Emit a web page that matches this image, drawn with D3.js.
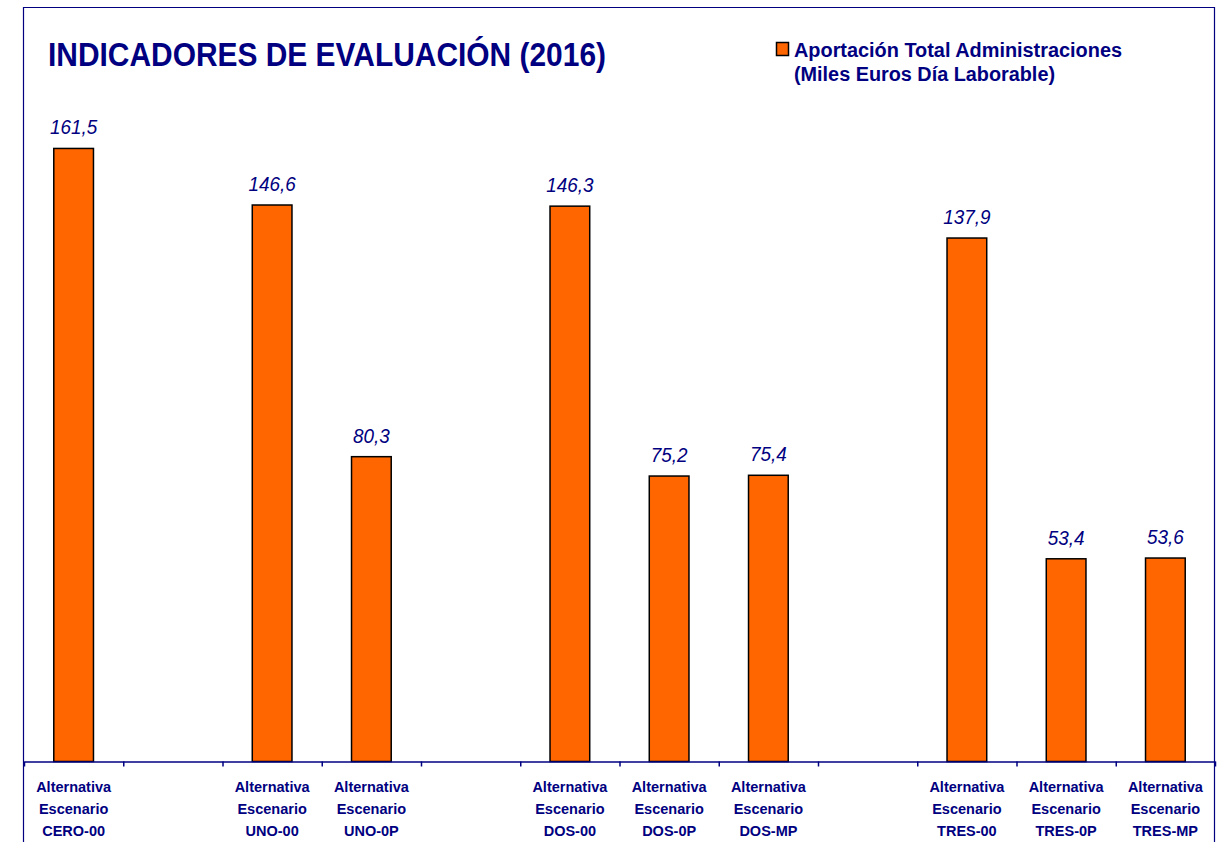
<!DOCTYPE html>
<html>
<head>
<meta charset="utf-8">
<script src="https://cdn.jsdelivr.net/npm/d3@7"></script>
<style>
  body { margin: 0; background: #fff; }
  svg { display: block; font-family: "Liberation Sans", Arial, sans-serif; }
</style>
</head>
<body>
<svg id="chart"></svg>
<script>
const width = 1223;
const height = 842;

// data: empty strings are the blank slots between groups
const scenarios = ["CERO-00", "", "UNO-00", "UNO-0P", "", "DOS-00", "DOS-0P", "DOS-MP", "", "TRES-00", "TRES-0P", "TRES-MP"];
const values = [161.5, null, 146.6, 80.3, null, 146.3, 75.2, 75.4, null, 137.9, 53.4, 53.6];
const labelPrefix = ["Alternativa", "Escenario"];
const title = "INDICADORES DE EVALUACIÓN (2016)";
const legendLines = ["Aportación Total Administraciones", "(Miles Euros Día Laborable)"];

const navy = "#000080";
const orange = "#FF6600";

const svg = d3.select("#chart")
    .attr("width", width)
    .attr("height", height)
    .attr("viewBox", `0 0 ${width} ${height}`);

const left = 24, right = 1215, axisY = 761.5;

const x = d3.scaleBand()
    .domain(d3.range(scenarios.length))
    .range([left, right])
    .paddingInner(0.6)
    .paddingOuter(0.3);

const y = d3.scaleLinear()
    .domain([0, 180])
    .range([axisY, axisY - 180 * 3.796]);

// slot boundaries for the tick marks
const slot = d3.scaleLinear()
    .domain([0, scenarios.length])
    .range([left, right]);

// outer frame (open at the bottom)
svg.append("path")
    .attr("d", `M${left - 0.5},${height} V7.5 H1214.5 V${height}`)
    .attr("fill", "none")
    .attr("stroke", navy)
    .attr("stroke-width", 1.2);

// title
svg.append("text")
    .attr("x", 48)
    .attr("y", 66)
    .attr("font-size", 33)
    .attr("font-weight", "bold")
    .attr("fill", navy)
    .attr("textLength", 558)
    .attr("lengthAdjust", "spacingAndGlyphs")
    .text(title);

// legend
svg.append("rect")
    .attr("x", 776.5).attr("y", 42.5)
    .attr("width", 12).attr("height", 13)
    .attr("fill", orange)
    .attr("stroke", "#000")
    .attr("stroke-width", 1.5);

svg.append("text")
    .attr("x", 794).attr("y", 57)
    .attr("font-size", 20).attr("font-weight", "bold").attr("fill", navy)
    .attr("textLength", 328).attr("lengthAdjust", "spacingAndGlyphs")
    .text(legendLines[0]);

svg.append("text")
    .attr("x", 794).attr("y", 81)
    .attr("font-size", 20).attr("font-weight", "bold").attr("fill", navy)
    .attr("textLength", 261).attr("lengthAdjust", "spacingAndGlyphs")
    .text(legendLines[1]);

const data = scenarios.map((s, i) => ({ i: i, name: s, value: values[i] }))
    .filter(d => d.value !== null);

// bars
svg.append("g")
    .selectAll("rect")
    .data(data)
    .enter().append("rect")
    .attr("x", d => x(d.i))
    .attr("y", d => y(d.value))
    .attr("width", x.bandwidth())
    .attr("height", d => y(0) - y(d.value))
    .attr("fill", orange)
    .attr("stroke", "#000")
    .attr("stroke-width", 1.5);

// value labels
svg.append("g")
    .selectAll("text")
    .data(data)
    .enter().append("text")
    .attr("transform", d => `translate(${x(d.i) + x.bandwidth() / 2},${y(d.value) - 14}) scale(0.9,1)`)
    .attr("text-anchor", "middle")
    .attr("font-size", 21)
    .attr("font-style", "italic")
    .attr("fill", navy)
    .text(d => d3.format(".1f")(d.value).replace(".", ","));

// axis with ticks at the slot boundaries
const axis = svg.append("g")
    .attr("transform", `translate(0,${axisY})`)
    .call(d3.axisBottom(slot).ticks(scenarios.length).tickSize(5).tickSizeOuter(0).tickFormat(""));
axis.select(".domain").attr("stroke", navy).attr("stroke-width", 1.5);
axis.selectAll(".tick line").attr("stroke", navy).attr("stroke-width", 1.5);

// category labels
const cats = svg.append("g")
    .selectAll("text")
    .data(data)
    .enter().append("text")
    .attr("text-anchor", "middle")
    .attr("font-size", 14.5)
    .attr("font-weight", "bold")
    .attr("fill", navy);

cats.selectAll("tspan")
    .data(d => labelPrefix.concat([d.name]).map(t => ({ t: t, cx: x(d.i) + x.bandwidth() / 2 })))
    .enter().append("tspan")
    .attr("x", d => d.cx)
    .attr("y", (d, k) => 792 + k * 22)
    .text(d => d.t);
</script>
</body>
</html>
